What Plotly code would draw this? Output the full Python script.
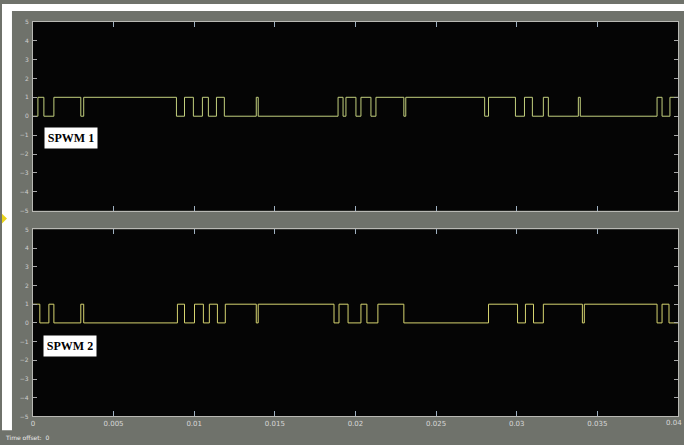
import plotly.graph_objects as go

# Switching instants (s) and the level each step switches to
spwm1_t = [0.0, 0.00031, 0.00068, 0.00130, 0.00297, 0.00315, 0.00890, 0.00940,
           0.00995, 0.01051, 0.01088, 0.01138, 0.01187, 0.01385, 0.01397, 0.01892,
           0.01923, 0.01941, 0.02003, 0.02034, 0.02096, 0.02127, 0.02300, 0.02312,
           0.02801, 0.02825, 0.02992, 0.03048, 0.03097, 0.03165, 0.03196, 0.03382,
           0.03394, 0.03870, 0.03901, 0.03950, 0.04]
spwm1_v = [0, 1, 0, 1, 0, 1, 0, 1,
           0, 1, 0, 1, 0, 1, 0, 1,
           0, 1, 0, 1, 0, 1, 0, 1,
           0, 1, 0, 1, 0, 1, 0, 1,
           0, 1, 0, 1, 1]

spwm2_t = [0.0, 0.00043, 0.00099, 0.00130, 0.00297, 0.00315, 0.00896, 0.00940,
           0.01002, 0.01057, 0.01094, 0.01144, 0.01193, 0.01385, 0.01397, 0.01867,
           0.01898, 0.01954, 0.02034, 0.02071, 0.02139, 0.02300, 0.02825, 0.03005,
           0.03054, 0.03104, 0.03165, 0.03407, 0.03419, 0.03870, 0.03901, 0.03944,
           0.04]
spwm2_v = [1, 0, 1, 0, 1, 0, 1, 0,
           1, 0, 1, 0, 1, 0, 1, 0,
           1, 0, 1, 0, 1, 0, 1, 0,
           1, 0, 1, 0, 1, 0, 1, 0,
           0]

x_ticks = [0, 0.005, 0.01, 0.015, 0.02, 0.025, 0.03, 0.035, 0.04]
x_tick_text = ["0", "0.005", "0.01", "0.015", "0.02", "0.025", "0.03", "0.035", "0.04"]
y_ticks = [-5, -4, -3, -2, -1, 0, 1, 2, 3, 4, 5]

W, H = 684, 445
frame_grey = "#6f726b"
label_font = dict(family="DejaVu Sans", size=7, color="#d8d8d8")

fig = go.Figure()
fig.add_trace(go.Scatter(x=spwm1_t, y=spwm1_v, mode="lines", line_shape="hv",
                         line=dict(color="#c3d07e", width=1), xaxis="x", yaxis="y",
                         showlegend=False))
fig.add_trace(go.Scatter(x=spwm2_t, y=spwm2_v, mode="lines", line_shape="hv",
                         line=dict(color="#d6d470", width=1), xaxis="x2", yaxis="y2",
                         showlegend=False))

x_dom = [31 / W, 678 / W]
common_x = dict(range=[0, 0.04], tickvals=x_ticks,
                ticks="inside", ticklen=5, tickcolor="#9fb0c0", showgrid=False,
                zeroline=False, showline=True, linecolor="#b9b9b4", linewidth=1,
                mirror="ticks", domain=x_dom, tickfont=label_font)
common_y = dict(range=[-5, 5], tickvals=y_ticks, ticks="inside", ticklen=4,
                tickcolor="#a8a8a8", showgrid=False, zeroline=False, showline=True,
                linecolor="#b9b9b4", linewidth=1, mirror="ticks",
                tickfont=dict(family="DejaVu Sans", size=6, color="#cfcfcf"),
                ticklabelstandoff=2)

fig.update_layout(
    width=W, height=H,
    margin=dict(l=0, r=0, t=0, b=0),
    paper_bgcolor=frame_grey,
    plot_bgcolor="#050505",
    # last tick label is drawn separately so it stays inside the window
    xaxis=dict(common_x, anchor="y", showticklabels=False),
    yaxis=dict(common_y, domain=[1 - 210 / H, 1 - 18 / H], anchor="x"),
    xaxis2=dict(common_x, anchor="y2", showticklabels=True,
                ticktext=x_tick_text[:-1] + [""]),
    yaxis2=dict(common_y, domain=[1 - 419 / H, 1 - 229 / H], anchor="x2"),
    shapes=[
        # white page strips above and left of the scope window
        dict(type="rect", xref="paper", yref="paper", x0=0, x1=1.0,
             y0=1 - 7 / H, y1=1.0, fillcolor="white", line=dict(width=0),
             layer="below"),
        dict(type="rect", xref="paper", yref="paper", x0=0, x1=10 / W,
             y0=1 - 433 / H, y1=1.0, fillcolor="white", line=dict(width=0),
             layer="below"),
        # small yellow marker at the left edge
        dict(type="path", xref="paper", yref="paper",
             path=f"M 0 {1 - 213 / H} L {5 / W} {1 - 218 / H} L 0 {1 - 223 / H} Z",
             fillcolor="#e8d21a", line=dict(width=0)),
    ],
    annotations=[
        dict(text="<b>SPWM 1</b>", xref="paper", yref="paper",
             x=69 / W, y=1 - 136 / H, xanchor="center", yanchor="middle",
             showarrow=False,
             font=dict(family="Liberation Serif", size=12, color="black"),
             bgcolor="white", borderpad=3, width=46),
        dict(text="<b>SPWM 2</b>", xref="paper", yref="paper",
             x=68 / W, y=1 - 347 / H, xanchor="center", yanchor="middle",
             showarrow=False,
             font=dict(family="Liberation Serif", size=12, color="black"),
             bgcolor="white", borderpad=3, width=46),
        dict(text=x_tick_text[-1], xref="paper", yref="paper", x=1.0, y=1 - 426 / H,
             xanchor="right", yanchor="middle", showarrow=False, font=label_font),
        dict(text="Time offset:  0", xref="paper", yref="paper",
             x=1 / W, y=1 - 440 / H, xanchor="left", yanchor="middle", showarrow=False,
             font=dict(family="DejaVu Sans", size=6, color="#ececec")),
    ],
)

fig.write_html("out.html")
